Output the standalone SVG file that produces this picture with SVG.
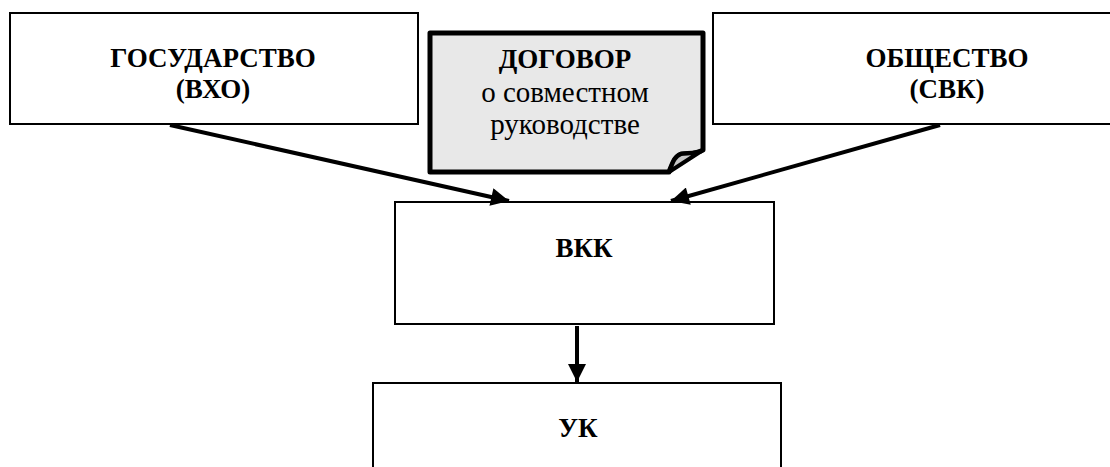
<svg xmlns="http://www.w3.org/2000/svg" width="1110" height="467" viewBox="0 0 1110 467">
<style>
.box{fill:#fff;stroke:#000;stroke-width:2}
.b{font-family:"Liberation Serif","Times New Roman",serif;font-weight:bold;font-size:27px;text-anchor:middle;fill:#000}
.r{font-family:"Liberation Serif","Times New Roman",serif;font-size:29px;text-anchor:middle;fill:#000}
.conn{stroke:#000;stroke-width:4;fill:none}
</style>
<defs>
<marker id="ah" viewBox="0 0 10 10" refX="10" refY="5" markerWidth="5" markerHeight="4.5" markerUnits="strokeWidth" orient="auto">
<path d="M0,0 L10,5 L0,10 Z" fill="#000"/>
</marker>
</defs>
<rect width="1110" height="467" fill="#fff"/>
<g id="gosudarstvo">
<rect class="box" x="10" y="13" width="408" height="111"/>
<text class="b" x="213" y="67">ГОСУДАРСТВО</text>
<text class="b" x="213" y="98">(ВХО)</text>
</g>
<g id="obshchestvo">
<rect class="box" x="713" y="13" width="470" height="111"/>
<text class="b" x="947" y="67">ОБЩЕСТВО</text>
<text class="b" x="947" y="98">(СВК)</text>
</g>
<g id="dogovor">
<path d="M430,33 H703 V150 C697,154 688,153 681,154 C675,156 673,162 669,172 H430 Z" fill="#e8e8e8" stroke="#000" stroke-width="5" stroke-linejoin="round"/>
<path d="M703,150 L669,172 C673,162 675,156 681,154 C688,153 697,154 703,150 Z" fill="#c8c8c8" stroke="#000" stroke-width="4" stroke-linejoin="round"/>
<text class="b" x="565" y="68">ДОГОВОР</text>
<text class="r" x="565" y="102">о совместном</text>
<text class="r" x="565" y="134">руководстве</text>
</g>
<g id="vkk">
<rect class="box" x="395" y="202" width="379" height="122"/>
<text class="b" x="584" y="257">ВКК</text>
</g>
<g id="uk">
<rect class="box" x="373" y="383" width="408" height="120"/>
<text class="b" x="578" y="437">УК</text>
</g>
<g id="connectors">
<line class="conn" x1="170" y1="125" x2="509" y2="201" marker-end="url(#ah)"/>
<line class="conn" x1="940" y1="125" x2="671" y2="201" marker-end="url(#ah)"/>
<line class="conn" x1="577" y1="326" x2="577" y2="382" marker-end="url(#ah)"/>
</g>
</svg>
